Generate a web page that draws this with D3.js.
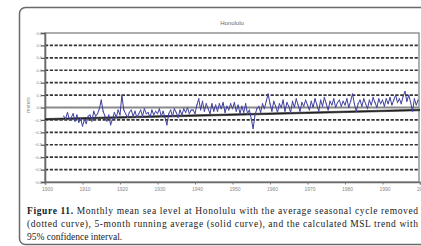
<!DOCTYPE html>
<html>
<head>
<meta charset="utf-8">
<script src="https://cdn.jsdelivr.net/npm/d3@7"></script>
<style>
  body { margin: 0; background: #fff; }
  svg { display: block; }
</style>
</head>
<body>
<script>
// half-year sea level values (m), 1905.0 .. 1999.5
let startYear = 1905;
let seaLevel = [
  -0.07, -0.09, -0.04, -0.10, -0.08, -0.05, -0.11, -0.06, -0.12, -0.09,
  -0.15, -0.10, -0.13, -0.07, -0.06, -0.11, -0.03, -0.07, -0.05, -0.01,
   0.06, -0.03, -0.07, -0.11, -0.06, -0.14, -0.09, -0.04, -0.08, -0.02,
  -0.06,  0.10, -0.02, -0.05, -0.08, -0.04, -0.02, -0.07, -0.03, -0.08,
  -0.05, -0.02, -0.07, -0.01, -0.05, -0.04, -0.08, -0.02, -0.06, -0.03,
  -0.05, -0.01, -0.07, -0.03, -0.08, -0.14, -0.05, -0.02, -0.07, -0.01,
  -0.04, -0.08, -0.02, -0.06, -0.01, -0.04,  0.00, -0.05, -0.02, -0.02,
  -0.05,  0.02,  0.07, -0.02,  0.05, -0.03,  0.03, -0.01, -0.05,  0.03,
  -0.03,  0.02, -0.03,  0.03, -0.01,  0.04, -0.04,  0.01, -0.02,  0.03,
  -0.01,  0.04, -0.03,  0.02, -0.05,  0.01, -0.04,  0.03, -0.05, -0.02,
  -0.09, -0.17, -0.06, -0.01,  0.01, -0.04,  0.03, -0.01,  0.05,  0.11,
   0.03, -0.03,  0.05,  0.01, -0.04,  0.03,  0.00,  0.06, -0.03,  0.04,
   0.01, -0.04,  0.05,  0.00,  0.07,  0.02, -0.03,  0.04,  0.01,  0.06,
   0.02, -0.02,  0.05,  0.00,  0.07,  0.02, -0.03,  0.06,  0.01,  0.08,
   0.03, -0.02,  0.05,  0.02,  0.07,  0.00,  0.04,  0.06,  0.01,  0.05,
   0.02,  0.07,  0.00,  0.05,  0.11,  0.03, -0.03,  0.03,  0.06,  0.01,
   0.07,  0.03, -0.01,  0.06,  0.02,  0.08,  0.04,  0.00,  0.07,  0.03,
   0.06,  0.01,  0.07,  0.03,  0.08,  0.02,  0.06,  0.10,  0.04,  0.07,
   0.03,  0.09,  0.13,  0.05,  0.10,  0.04, -0.03,  0.07,  0.02,  0.06
];

let trendYears = [1900, 2000];
let trendMid   = [-0.095, -0.02];
let trendLow   = [-0.101, -0.026];
let trendHigh  = [-0.089, -0.014];

let yTicks = [0.6, 0.5, 0.4, 0.3, 0.2, 0.1, 0, -0.1, -0.2, -0.3, -0.4, -0.5, -0.6];
let xTicks = [1900, 1910, 1920, 1930, 1940, 1950, 1960, 1970, 1980, 1990, 2000];

let caption = [
  "Monthly mean sea level at Honolulu with the average seasonal cycle removed",
  "(dotted curve), 5-month running average (solid curve), and the calculated MSL trend with",
  "95% confidence interval."
];

let W = 421, H = 246;
let plot = {left: 45, right: 419, top: 33, bottom: 182};

let svg = d3.select("body").append("svg")
    .attr("width", W)
    .attr("height", H);

// outer figure box
svg.append("rect")
    .attr("x", 19.5).attr("y", 7.5)
    .attr("width", 420).attr("height", 237)
    .attr("rx", 6)
    .attr("fill", "none")
    .attr("stroke", "#6a6a6a")
    .attr("stroke-width", 1.5);

let xScale = d3.scaleLinear()
    .domain([1900, 2000])
    .range([plot.left, 420]);
let yScale = d3.scaleLinear()
    .domain([-0.6, 0.6])
    .range([plot.bottom, plot.top]);

// dashed grid
svg.append("g")
  .selectAll("line")
  .data(yTicks.filter(v => v !== 0 && v !== 0.6 && v !== -0.6))
  .enter()
    .append("line")
    .attr("x1", plot.left).attr("x2", plot.right)
    .attr("y1", d => yScale(d)).attr("y2", d => yScale(d))
    .attr("stroke", "#333")
    .attr("stroke-width", 1.7)
    .attr("stroke-dasharray", "3.2,1.6");

// zero line
svg.append("line")
    .attr("x1", plot.left).attr("x2", plot.right)
    .attr("y1", yScale(0)).attr("y2", yScale(0))
    .attr("stroke", "#8a8a8a")
    .attr("stroke-width", 1.8);

// frame
svg.append("rect")
    .attr("x", plot.left).attr("y", plot.top)
    .attr("width", plot.right - plot.left)
    .attr("height", plot.bottom - plot.top)
    .attr("fill", "none")
    .attr("stroke", "#8c8c8c")
    .attr("stroke-width", 1.4);

// axes
let yAxis = d3.axisLeft(yScale)
    .tickValues(yTicks)
    .tickSize(4)
    .tickFormat(d3.format(".1f"));
let gy = svg.append("g")
    .attr("transform", `translate(${plot.left}, 0)`)
    .call(yAxis);
gy.select(".domain").attr("stroke", "#6a6a6a").attr("stroke-width", 1.6);
gy.selectAll(".tick line").attr("stroke", "#555").attr("stroke-width", 1.2);
gy.selectAll(".tick text")
    .attr("x", -3.5)
    .attr("fill", "#777")
    .style("font", "3.6px 'Liberation Sans', Arial, sans-serif");

let xAxis = d3.axisBottom(xScale)
    .tickValues(xTicks)
    .tickSize(2.5)
    .tickFormat(d3.format("d"));
let gx = svg.append("g")
    .attr("transform", `translate(0, ${plot.bottom})`)
    .call(xAxis);
gx.select(".domain").attr("stroke", "#6a6a6a").attr("stroke-width", 1.6);
gx.selectAll(".tick line").attr("stroke", "#777").attr("stroke-width", 1);
gx.selectAll(".tick text")
    .attr("y", 5.5)
    .attr("dx", 2)
    .attr("fill", "#888")
    .style("font", "5px 'Liberation Sans', Arial, sans-serif");

// trend with confidence interval
let trendLine = d3.line()
    .x((v, i) => xScale(trendYears[i]))
    .y(v => yScale(v));
[trendLow, trendHigh].forEach(arr => {
  svg.append("path")
      .datum(arr)
      .attr("d", trendLine)
      .attr("fill", "none")
      .attr("stroke", "#666")
      .attr("stroke-width", 0.9);
});
svg.append("path")
    .datum(trendMid)
    .attr("d", trendLine)
    .attr("fill", "none")
    .attr("stroke", "#222")
    .attr("stroke-width", 1.4);

// sea level series (dotted curve)
let seriesLine = d3.line()
    .x((v, i) => xScale(startYear + i * 0.5))
    .y(v => yScale(v));
svg.append("path")
    .datum(seaLevel)
    .attr("d", seriesLine)
    .attr("fill", "none")
    .attr("stroke", "#3c3c9c")
    .attr("stroke-width", 1)
    .attr("stroke-linejoin", "round");
svg.append("g")
  .selectAll("circle")
  .data(seaLevel)
  .enter()
    .append("circle")
    .attr("cx", (v, i) => xScale(startYear + i * 0.5))
    .attr("cy", v => yScale(v))
    .attr("r", 0.7)
    .attr("fill", "#5a5ab0");

// title and axis label
svg.append("text")
    .attr("x", (plot.left + plot.right) / 2)
    .attr("y", 25)
    .attr("text-anchor", "middle")
    .attr("fill", "#666")
    .style("font", "6px 'Liberation Sans', Arial, sans-serif")
    .text("Honolulu");

svg.append("text")
    .attr("transform", "translate(30, 105) rotate(-90)")
    .attr("text-anchor", "middle")
    .attr("fill", "#888")
    .style("font", "5px 'Liberation Sans', Arial, sans-serif")
    .text("meters");

// caption
let cap = svg.append("g")
    .style("font", "9.5px 'Liberation Serif', 'Times New Roman', serif")
    .attr("fill", "#1a1a1a");
let l1 = cap.append("text")
    .attr("x", 27).attr("y", 214)
    .attr("textLength", 391)
    .attr("lengthAdjust", "spacing");
l1.append("tspan").style("font-weight", "bold").text("Figure 11.");
l1.append("tspan").text("  " + caption[0]);
cap.append("text")
    .attr("x", 27).attr("y", 227)
    .attr("textLength", 391)
    .attr("lengthAdjust", "spacing")
    .text(caption[1]);
cap.append("text")
    .attr("x", 27).attr("y", 240)
    .text(caption[2]);
</script>
</body>
</html>
